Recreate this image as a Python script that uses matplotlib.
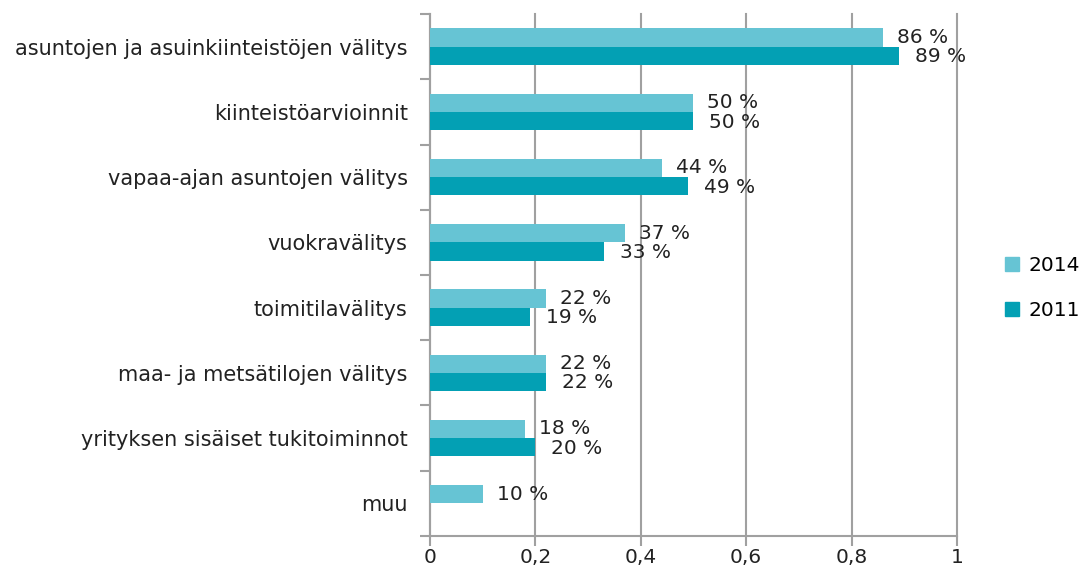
import matplotlib
matplotlib.use("Agg")
import matplotlib.pyplot as plt
import numpy as np
from matplotlib.lines import Line2D
from matplotlib.ticker import FixedLocator, FuncFormatter

# data
categories = [
    "asuntojen ja asuinkiinteistöjen välitys",
    "kiinteistöarvioinnit",
    "vapaa-ajan asuntojen välitys",
    "vuokravälitys",
    "toimitilavälitys",
    "maa- ja metsätilojen välitys",
    "yrityksen sisäiset tukitoiminnot",
    "muu",
]
v2014 = [0.86, 0.50, 0.44, 0.37, 0.22, 0.22, 0.18, 0.10]
v2011 = [0.89, 0.50, 0.49, 0.33, 0.19, 0.22, 0.20, None]
series_names = ["2014", "2011"]
colors = ["#66C4D4", "#03A0B4"]

fig = plt.figure(figsize=(10.83, 5.72), dpi=100)
ax = fig.add_axes([0.397, 0.063, 0.4866, 0.9125])

y = np.arange(len(categories))
h = 0.28
ax.barh(y - h / 2, v2014, height=h, color=colors[0], zorder=3)
vals11 = [v if v is not None else 0 for v in v2011]
ax.barh(y + h / 2, vals11, height=h, color=colors[1], zorder=3)

# value labels
for i in range(len(categories)):
    ax.annotate(f"{round(v2014[i] * 100)} %", (v2014[i], y[i] - h / 2),
                xytext=(14, 0), textcoords="offset pixels",
                va="center", ha="left", fontsize=14.5, color="#222222")
    if v2011[i] is not None:
        ax.annotate(f"{round(v2011[i] * 100)} %", (v2011[i], y[i] + h / 2),
                    xytext=(16, -1), textcoords="offset pixels",
                    va="center", ha="left", fontsize=14.5, color="#222222")

ax.set_ylim(len(categories) - 0.5, -0.5)
ax.set_xlim(0, 1)

ax.set_yticks(y)
ax.set_yticklabels(categories, fontsize=15, color="#222222")
ax.tick_params(axis="y", which="major", length=0, pad=16)
ax.yaxis.set_minor_locator(FixedLocator(np.arange(-0.5, len(categories) + 0.5, 1)))
ax.tick_params(axis="y", which="minor", length=7, width=1.5, color="#A0A0A0")

ax.set_xticks(np.arange(0, 1.01, 0.2))
ax.xaxis.set_major_formatter(FuncFormatter(lambda v, p: ("%g" % round(v, 1)).replace(".", ",")))
ax.tick_params(axis="x", length=7, width=1.5, color="#A0A0A0", labelsize=14.5,
               labelcolor="#222222", pad=2)

ax.grid(axis="x", color="#A0A0A0", linewidth=1.5, zorder=0)
for gl in ax.get_xgridlines():
    gl.set_clip_on(False)
for s in ["top", "right"]:
    ax.spines[s].set_visible(False)
for s in ["left", "bottom"]:
    ax.spines[s].set_color("#A0A0A0")
    ax.spines[s].set_linewidth(1.5)

handles = [Line2D([], [], marker="s", linestyle="none", markersize=10,
                  markerfacecolor=c, markeredgecolor=c) for c in colors]
fig.legend(handles, series_names, loc="center left", bbox_to_anchor=(0.918, 0.496),
           frameon=False, fontsize=14.5, handletextpad=0.3, labelspacing=1.3,
           handlelength=1.0, borderaxespad=0)

fig.savefig("out.png", dpi=100)
